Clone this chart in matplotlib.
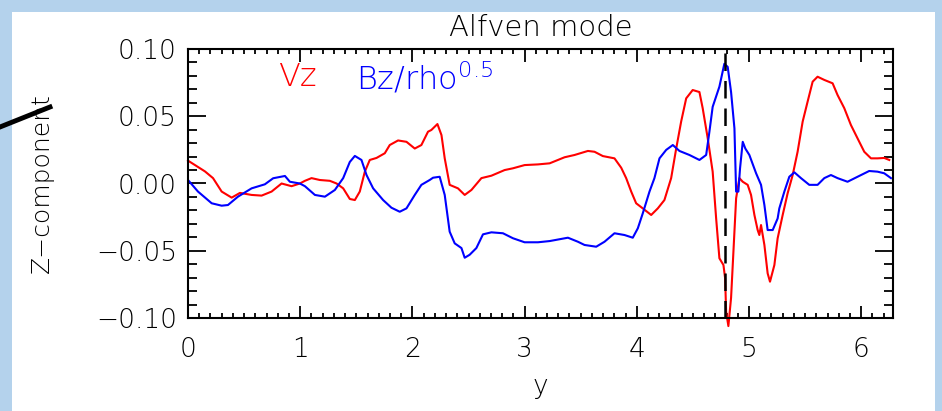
import numpy as np
import matplotlib.pyplot as plt
from matplotlib.lines import Line2D
from matplotlib.ticker import MultipleLocator, FuncFormatter

# Vz along y
vz_y = [0.000, 0.151, 0.223, 0.300, 0.389, 0.463, 0.567, 0.656, 0.745, 0.834,
        0.923, 0.997, 1.042, 1.101, 1.175, 1.264, 1.324, 1.383, 1.442, 1.487,
        1.531, 1.576, 1.620, 1.680, 1.754, 1.798, 1.872, 1.947, 2.021, 2.080,
        2.139, 2.169, 2.223, 2.259, 2.288, 2.332, 2.406, 2.466, 2.526, 2.615,
        2.704, 2.822, 2.896, 3.000, 3.119, 3.223, 3.356, 3.445, 3.564, 3.623,
        3.697, 3.801, 3.861, 3.905, 3.950, 3.994, 4.053, 4.128, 4.187, 4.246,
        4.306, 4.351, 4.395, 4.440, 4.498, 4.558, 4.587, 4.632, 4.676, 4.707,
        4.736, 4.772, 4.787, 4.796, 4.816, 4.840, 4.861, 4.885, 4.914, 4.944,
        4.988, 5.018, 5.048, 5.077, 5.092, 5.107, 5.137, 5.166, 5.187, 5.226,
        5.255, 5.300, 5.344, 5.389, 5.433, 5.478, 5.522, 5.567, 5.611, 5.671,
        5.745, 5.789, 5.849, 5.908, 5.967, 6.027, 6.087, 6.145, 6.205, 6.250]
vz = [0.0170, 0.0090, 0.0040, -0.0060, -0.0105, -0.0070, -0.0085, -0.0090, -0.0060, 0.0000,
      -0.0020, 0.0000, 0.0020, 0.0040, 0.0026, 0.0020, 0.0000, -0.0036, -0.0115, -0.0123,
      -0.0060, 0.0088, 0.0175, 0.0190, 0.0225, 0.0286, 0.0320, 0.0310, 0.0260, 0.0286,
      0.0385, 0.0398, 0.0442, 0.0360, 0.0187, -0.0010, -0.0036, -0.0085, -0.0048, 0.0040,
      0.0058, 0.0100, 0.0113, 0.0137, 0.0142, 0.0150, 0.0195, 0.0212, 0.0242, 0.0236,
      0.0204, 0.0187, 0.0117, 0.0040, -0.0060, -0.0147, -0.0185, -0.0234, -0.0185, -0.0123,
      0.0040, 0.0260, 0.0460, 0.0633, 0.0695, 0.0680, 0.0560, 0.0336, 0.0088, -0.0260,
      -0.0556, -0.0606, -0.0705, -0.0953, -0.1060, -0.0850, -0.0507, -0.0110, 0.0040, 0.0013,
      -0.0010, -0.0085, -0.0234, -0.0346, -0.0383, -0.0309, -0.0457, -0.0668, -0.0730, -0.0606,
      -0.0408, -0.0234, -0.0073, 0.0063, 0.0236, 0.0460, 0.0608, 0.0757, 0.0794, 0.0770,
      0.0745, 0.0658, 0.0560, 0.0435, 0.0336, 0.0236, 0.0187, 0.0187, 0.0190, 0.0175]

# Bz/sqrt(rho) along y
bz_y = [0.000, 0.089, 0.211, 0.300, 0.356, 0.445, 0.567, 0.685, 0.759, 0.864,
        0.908, 0.997, 1.042, 1.131, 1.220, 1.309, 1.383, 1.442, 1.487, 1.546,
        1.591, 1.650, 1.739, 1.813, 1.887, 1.947, 2.021, 2.080, 2.154, 2.184,
        2.243, 2.288, 2.332, 2.377, 2.437, 2.466, 2.510, 2.570, 2.629, 2.704,
        2.807, 2.896, 3.000, 3.119, 3.223, 3.386, 3.475, 3.534, 3.638, 3.712,
        3.801, 3.890, 3.964, 4.009, 4.053, 4.113, 4.157, 4.202, 4.262, 4.321,
        4.380, 4.469, 4.558, 4.618, 4.647, 4.676, 4.736, 4.780, 4.810, 4.840,
        4.870, 4.885, 4.905, 4.920, 4.944, 4.967, 5.003, 5.063, 5.107, 5.137,
        5.166, 5.211, 5.255, 5.270, 5.315, 5.359, 5.404, 5.463, 5.537, 5.611,
        5.671, 5.730, 5.789, 5.878, 5.967, 6.071, 6.145, 6.205, 6.265]
bz = [0.0026, -0.0060, -0.0147, -0.0165, -0.0160, -0.0098, -0.0036, -0.0006, 0.0039, 0.0056,
      0.0013, 0.0000, -0.0020, -0.0085, -0.0098, -0.0048, 0.0040, 0.0160, 0.0205, 0.0175,
      0.0063, -0.0036, -0.0123, -0.0180, -0.0210, -0.0185, -0.0085, -0.0010, 0.0026, 0.0043,
      0.0050, -0.0085, -0.0358, -0.0445, -0.0480, -0.0552, -0.0530, -0.0480, -0.0378, -0.0363,
      -0.0370, -0.0407, -0.0437, -0.0437, -0.0428, -0.0403, -0.0433, -0.0457, -0.0470, -0.0433,
      -0.0370, -0.0383, -0.0403, -0.0333, -0.0222, -0.0060, 0.0040, 0.0187, 0.0250, 0.0286,
      0.0242, 0.0212, 0.0175, 0.0212, 0.0385, 0.0570, 0.0720, 0.0890, 0.0867, 0.0680,
      0.0410, -0.0060, -0.0060, 0.0113, 0.0310, 0.0260, 0.0212, 0.0076, -0.0010, -0.0160,
      -0.0346, -0.0346, -0.0260, -0.0185, -0.0060, 0.0050, 0.0083, 0.0040, -0.0010, -0.0010,
      0.0040, 0.0063, 0.0040, 0.0013, 0.0050, 0.0093, 0.0088, 0.0076, 0.0040]

y_mark = 4.79

plt.rcParams['font.family'] = 'DejaVu Sans'
plt.rcParams['font.weight'] = 200
thin = 200

fig = plt.figure(figsize=(9.42, 4.11), dpi=100)
fig.patch.set_facecolor('#b4d2ec')
# white page inside the blue frame
page = plt.Rectangle((12 / 942, 0), (935 - 12) / 942, (411 - 12) / 411,
                     transform=fig.transFigure, facecolor='white',
                     edgecolor='none', zorder=-5)
fig.add_artist(page)

ax = fig.add_axes([188 / 942, (411 - 318) / 411, 705 / 942, 269 / 411])
ax.set_zorder(2)
ax.plot(vz_y, vz, color='#ff0000', lw=1.5, clip_on=False)
ax.plot(bz_y, bz, color='#0000ff', lw=1.5)
ax.axvline(y_mark, color='black', lw=1.8, dashes=(7, 4))

ax.set_xlim(0, 2 * np.pi)
ax.set_ylim(-0.1, 0.1)
ax.xaxis.set_major_locator(MultipleLocator(1))
ax.xaxis.set_minor_locator(MultipleLocator(0.1))
ax.yaxis.set_major_locator(MultipleLocator(0.05))
ax.yaxis.set_minor_locator(MultipleLocator(0.01))
ax.yaxis.set_major_formatter(FuncFormatter(lambda v, p: f'{v:.2f}'.replace('-', '\u2212')))

for s in ax.spines.values():
    s.set_linewidth(1.5)
ax.tick_params(which='both', direction='in', top=True, right=True, width=1.3,
               labelsize=19)
ax.tick_params(axis='x', which='major', length=9, pad=14)
ax.tick_params(axis='x', which='minor', length=3.5)
ax.tick_params(axis='y', which='major', length=13, pad=8)
ax.tick_params(axis='y', which='minor', length=6.5)

ax.set_title('Alfven mode', fontsize=21, pad=9, fontweight=thin)
ax.set_xlabel('y', fontsize=19, labelpad=8, fontweight=thin)
ax.set_ylabel('Z\u2212component', fontsize=18, fontweight=thin)
ax.yaxis.set_label_coords(-0.19, 0.5)

ax.text(0.80, 0.079, 'Vz', color='#ff0000', fontsize=23, va='center',
        fontweight=thin)
ax.text(1.50, 0.079, r'Bz/rho$^{\mathregular{0.5}}$', color='#0000ff',
        fontsize=23, va='center', fontweight=thin)

# pointer line at the left edge
fig.add_artist(Line2D([0 / 942, 50 / 942], [1 - 127 / 411, 1 - 107 / 411],
                      transform=fig.transFigure, color='black', lw=3.5))

fig.savefig('out.png', dpi=100, facecolor=fig.get_facecolor())
